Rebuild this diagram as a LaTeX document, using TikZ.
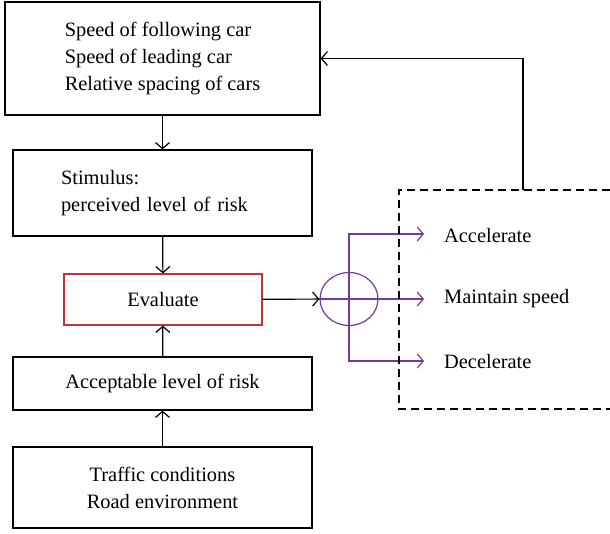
\documentclass[tikz,border=0pt]{standalone}
\usepackage{fontspec}
\setmainfont{Liberation Serif}
\usetikzlibrary{positioning,shapes.geometric,arrows.meta}
\definecolor{evalred}{RGB}{192,52,62}
\definecolor{choicepurple}{RGB}{112,58,160}

\begin{document}
\begin{tikzpicture}[x=1pt,y=-1pt,
    font=\fontsize{20.4}{27}\selectfont,
    box/.style={draw, line width=1.3pt, minimum width=299pt, inner sep=0pt},
    flow/.style={-{Straight Barb[length=6pt,width=14pt]}, line width=1.2pt},
    choice/.style={-{Straight Barb[length=6pt,width=14pt]}, line width=1.2pt, color=choicepurple}]
        \useasboundingbox (0,0) rectangle (610,533);

        \node[box, minimum width=315pt, minimum height=113pt, align=left] (inputs) at (162.5,58.5)
            {Speed of following car\\Speed of leading car\\Relative spacing of cars};
        \node[box, minimum height=86pt, text width=203pt, inner xsep=48pt, align=left] (stimulus) at (162.5,193)
            {Stimulus:\\perceived level of risk};
        \node[box, draw=evalred, minimum width=198pt, minimum height=51pt] (evaluate) at (163,299.5) {Evaluate};
        \node[box, minimum height=53pt] (acceptable) at (162.5,383.5) {Acceptable level of risk};
        \node[box, minimum height=81pt, align=center] (traffic) at (162.5,487.5)
            {Traffic conditions\\Road environment};

        \draw[flow] (inputs) -- (stimulus);
        \draw[flow] (stimulus) -- (evaluate);
        \draw[flow] (acceptable) -- (evaluate);
        \draw[flow] (traffic) -- (acceptable);

        % decision
        \node[ellipse, draw=choicepurple, line width=1.2pt, minimum width=58pt, minimum height=53pt, inner sep=0pt] (sum) at (349,299) {};
        \draw[flow] (evaluate) -- (sum);

        \coordinate (accTip) at (424,234);
        \coordinate (keepTip) at (424,299);
        \coordinate (decTip) at (424,361);
        \node[anchor=west, inner sep=0pt] (acc) at (444,236) {Accelerate};
        \node[anchor=west, inner sep=0pt] (keep) at (444,299) {Maintain speed};
        \node[anchor=west, inner sep=0pt] (dec) at (444,362) {Decelerate};

        \draw[choice] (sum.center) |- (accTip);
        \draw[choice] (sum.west) -- (keepTip);
        \draw[choice] (sum.center) |- (decTip);

        % driver response
        \draw[dashed, dash pattern=on 8pt off 5pt, line width=1.2pt] (610,190) -- (399,190) -- (399,409) -- (610,409);
        \coordinate (back) at (523,190);
        \draw[flow] (back) |- (inputs.east);
\end{tikzpicture}
\end{document}
